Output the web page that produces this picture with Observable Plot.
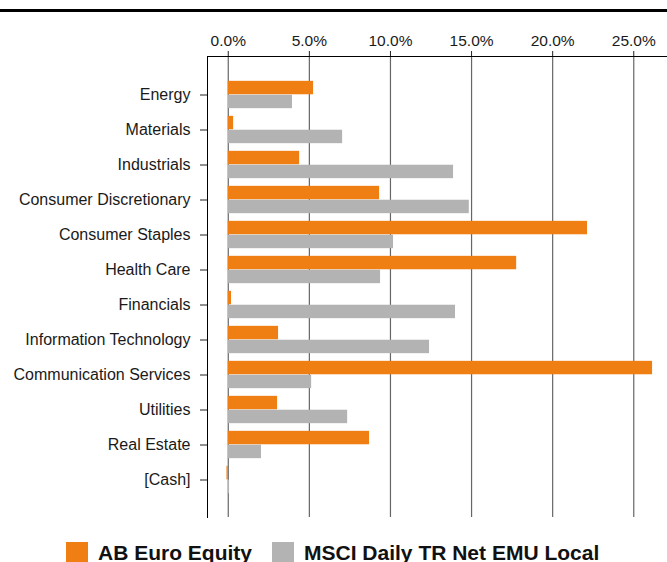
<!DOCTYPE html>
<html>
<head>
<meta charset="utf-8">
<script src="https://cdn.jsdelivr.net/npm/d3@7"></script>
<script src="https://cdn.jsdelivr.net/npm/@observablehq/plot@0.6"></script>
<style>
  html, body { margin: 0; padding: 0; background: #fff; }
  body { width: 667px; height: 562px; position: relative; overflow: hidden; font-family: "Liberation Sans", Arial, sans-serif; }
  #topline { position: absolute; left: 0; top: 9px; width: 667px; height: 3px; background: #000; z-index: 5; }
  #chart { position: absolute; left: 0; top: 0; z-index: 1; }
  #legend { position: absolute; left: 66px; top: 541px; display: flex; align-items: center; font-weight: bold; font-size: 21px; color: #111; white-space: nowrap; z-index: 5; }
  .sw { width: 22px; height: 22px; display: inline-block; margin-right: 10px; }
  .item { display: flex; align-items: center; margin-right: 20px; }
</style>
</head>
<body>
<div id="chart"></div>
<div id="topline"></div>
<div id="legend"></div>
<script>
const categories = ["Energy","Materials","Industrials","Consumer Discretionary","Consumer Staples","Health Care","Financials","Information Technology","Communication Services","Utilities","Real Estate","[Cash]"];
const seriesNames = ["AB Euro Equity", "MSCI Daily TR Net EMU Local"];
const abEuroEquity = [5.26, 0.33, 4.40, 9.33, 22.15, 17.78, 0.20, 3.10, 26.16, 3.04, 8.71, -0.08];
const msciEmu = [3.96, 7.05, 13.89, 14.86, 10.19, 9.39, 14.01, 12.41, 5.14, 7.36, 2.05, 0.08];
const xTicks = [0, 5, 10, 15, 20, 25];
const xTickLabels = ["0.0%", "5.0%", "10.0%", "15.0%", "20.0%", "25.0%"];
const colors = ["#EF7F13", "#B3B3B3"];

const abData = categories.map((c, i) => ({category: c, value: abEuroEquity[i], series: seriesNames[0]}));
const msciData = categories.map((c, i) => ({category: c, value: msciEmu[i], series: seriesNames[1]}));

const height = 530, marginTop = 56, marginBottom = 13;
const step = (height - marginTop - marginBottom) / (categories.length + 1);
const half = step / 2;
const barH = 13.9;

const chart = Plot.plot({
  width: 667,
  height,
  marginTop,
  marginBottom,
  marginLeft: 207,
  marginRight: 0,
  style: {fontFamily: "Liberation Sans, Arial, sans-serif", fontSize: "16px", color: "#1a1a1a", background: "transparent", overflow: "visible"},
  x: {domain: [-1.28, 27.08]},
  y: {domain: categories, paddingInner: 0, paddingOuter: 0.5},
  marks: [
    Plot.gridX(xTicks, {stroke: "#666", strokeOpacity: 1, strokeWidth: 1.2}),
    Plot.barX(abData, {x: "value", y: "category", fill: colors[0], insetTop: half - barH, insetBottom: half}),
    Plot.barX(msciData, {x: "value", y: "category", fill: colors[1], insetTop: half, insetBottom: half - barH}),
    Plot.axisX(xTicks, {anchor: "top", tickSize: 6, tickPadding: 5, tickFormat: (d) => xTickLabels[xTicks.indexOf(d)], fontSize: 15.5, stroke: "#222", label: null}),
    Plot.axisY({anchor: "left", tickSize: 7, tickPadding: 10, fontSize: 16, stroke: "#222", label: null}),
    Plot.frame({anchor: "top", stroke: "#000"}),
    Plot.frame({anchor: "left", stroke: "#000"})
  ]
});
document.getElementById("chart").appendChild(chart);

const legend = document.getElementById("legend");
seriesNames.forEach((name, i) => {
  const item = document.createElement("span");
  item.className = "item";
  const sw = document.createElement("span");
  sw.className = "sw";
  sw.style.background = colors[i];
  item.appendChild(sw);
  item.appendChild(document.createTextNode(name));
  legend.appendChild(item);
});
</script>
</body>
</html>
